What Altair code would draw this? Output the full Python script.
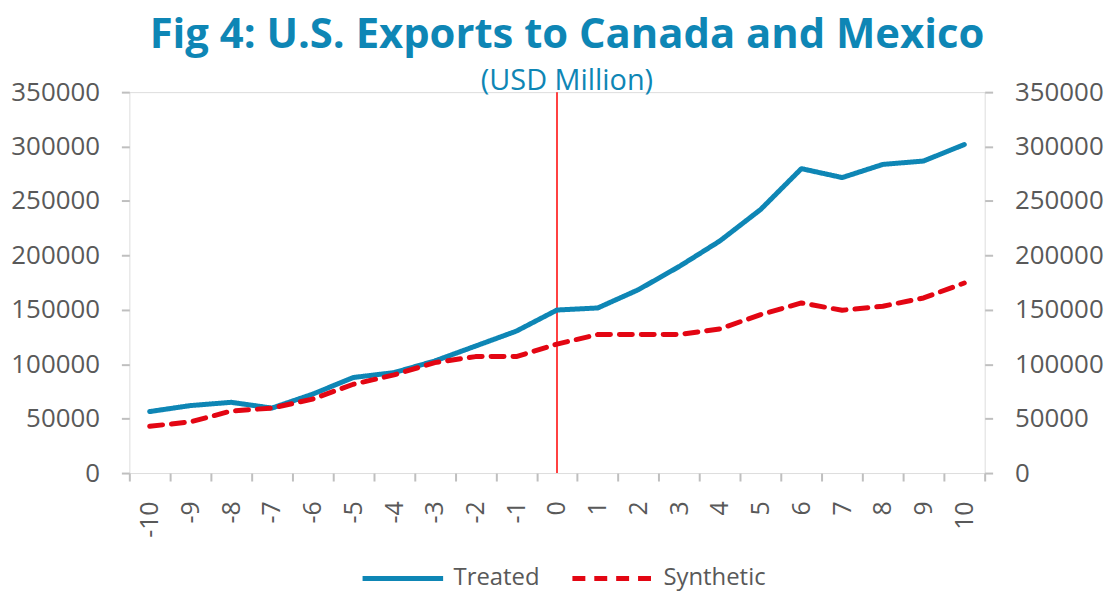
import altair as alt
import pandas as pd

periods = [str(i) for i in range(-10, 11)]
treated = [56500, 62000, 65000, 59700, 72500, 87800, 92300, 103000, 116700, 130400,
           149800, 151700, 168500, 189800, 213300, 242200, 279700, 271500, 283600, 286700, 301900]
synthetic = [43000, 47000, 57000, 59700, 68000, 81600, 90200, 101500, 107000, 107000,
             118500, 127300, 127300, 127300, 132500, 145600, 156300, 149600, 153300, 160900, 174600]
series_names = ["Treated", "Synthetic"]
series_colors = ["#0E86B5", "#E30613"]
y_ticks = [0, 50000, 100000, 150000, 200000, 250000, 300000, 350000]
treatment_period = ["0"]

rows = []
for p, v in zip(periods, treated):
    rows.append({"t": p, "series": "Treated", "value": v})
for p, v in zip(periods, synthetic):
    rows.append({"t": p, "series": "Synthetic", "value": v})
df = pd.DataFrame(rows)

FONT = "Open Sans"
GRAY = "#595959"
AX = "#BFBFBF"

x_enc = alt.X(
    "t:O",
    sort=periods,
    bandPosition=0.5,
    scale=alt.Scale(type="band", domain=periods, paddingInner=0, paddingOuter=0),
    axis=alt.Axis(
        title=None, labelAngle=270, labelFontSize=25, labelColor=GRAY, labelFont=FONT,
        tickBand="extent", tickSize=8, tickColor=AX, tickWidth=2, domain=False,
        labelPadding=20, labelAlign="right", labelBaseline="middle",
    ),
)

y_scale = alt.Scale(domain=[0, 350000], nice=False, zero=True)

lines = alt.Chart(df).mark_line(strokeWidth=5, strokeCap="round", strokeJoin="round").encode(
    x=x_enc,
    y=alt.Y(
        "value:Q", scale=y_scale,
        axis=alt.Axis(
            title=None, values=y_ticks, orient="left", format="d", labelFontSize=26,
            labelColor=GRAY, labelFont=FONT, tickSize=8, tickColor=AX, tickWidth=2,
            domain=False, grid=False, labelPadding=22,
        ),
    ),
    color=alt.Color(
        "series:N", scale=alt.Scale(domain=series_names, range=series_colors),
        legend=alt.Legend(
            title=None, orient="none", direction="horizontal", legendX=232, legendY=446,
            symbolType="stroke", symbolSize=6561, symbolStrokeWidth=5,
            labelFontSize=24, labelColor=GRAY, labelFont=FONT, columnPadding=22,
            labelOffset=8,
        ),
    ),
    strokeDash=alt.StrokeDash(
        "series:N", scale=alt.Scale(domain=series_names, range=[[1, 0], [13, 9]]),
        legend=None,
    ),
)

right = alt.Chart(df).mark_line(opacity=0).encode(
    x=x_enc,
    y=alt.Y(
        "value:Q", scale=y_scale,
        axis=alt.Axis(
            title=None, values=y_ticks, orient="right", format="d", labelFontSize=26,
            labelColor=GRAY, labelFont=FONT, tickSize=8, tickColor=AX, tickWidth=2,
            domain=False, grid=False, labelPadding=22,
        ),
    ),
)

rule = alt.Chart(pd.DataFrame({"t": treatment_period})).mark_rule(
    color="#FF0000", strokeWidth=1.5
).encode(x=alt.X("t:O", sort=periods, bandPosition=0.5,
                 scale=alt.Scale(type="band", domain=periods, paddingInner=0, paddingOuter=0)))

chart = alt.layer(rule, lines, right).resolve_scale(y="independent").properties(
    width=860,
    height=383,
    padding={"left": 2, "right": 2, "top": 5, "bottom": 2},
    title=alt.TitleParams(
        text="Fig 4: U.S. Exports to Canada and Mexico",
        subtitle="(USD Million)",
        anchor="middle", font=FONT, fontSize=42, fontWeight="bold", color="#0E86B5",
        subtitleFont=FONT, subtitleFontSize=29, subtitleColor="#0E86B5",
        subtitlePadding=10, offset=-18, dx=10,
    ),
).configure_view(stroke=AX, strokeWidth=2).configure(background="white")

chart.save("out.html", embed_options={"renderer": "svg", "actions": False})
